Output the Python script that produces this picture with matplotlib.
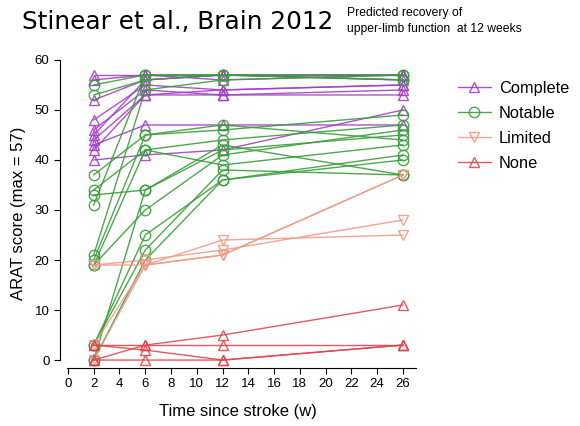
import matplotlib
matplotlib.use("Agg")
import matplotlib.pyplot as plt

weeks = [2, 6, 12, 26]

# ARAT score per patient at weeks 2, 6, 12, 26
complete = [
    [57, 57, 57, 57],
    [56, 57, 56, 57],
    [52, 56, 57, 56],
    [48, 55, 54, 55],
    [46, 54, 53, 54],
    [44, 53, 53, 53],
    [43, 47, 47, 47],
    [40, 41, 42, 50],
    [45, 56, 57, 57],
    [42, 53, 54, 55],
]
notable = [
    [55, 57, 57, 57],
    [53, 56, 57, 56],
    [37, 45, 46, 49],
    [34, 42, 44, 47],
    [33, 34, 42, 45],
    [31, 57, 57, 56],
    [21, 54, 56, 57],
    [20, 45, 47, 44],
    [19, 30, 41, 46],
    [3, 25, 36, 40],
    [3, 22, 38, 37],
    [0, 20, 36, 41],
    [0, 34, 43, 37],
    [19, 42, 39, 43],
]
limited = [
    [19, 19, 24, 25],
    [19, 20, 22, 28],
    [0, 19, 21, 37],
    [3, 19, 21, 37],
]
none = [
    [3, 3, 3, 3],
    [0, 3, 5, 11],
    [0, 0, 0, 3],
    [3, 2, 0, 3],
]

groups = ["Complete", "Notable", "Limited", "None"]
colores = ["#a43fc8", "#3a9e3a", "#f19a86", "#e0474c"]
marcas = ["^", "o", "v", "^"]
dados = [complete, notable, limited, none]

plt.rcParams["font.family"] = ["Liberation Sans", "DejaVu Sans"]

fig = plt.figure(figsize=(5.8, 4.26), dpi=100)
ax = fig.add_axes([0.1034, 0.136, 0.612, 0.728])

for nome, cor, m, pacientes in zip(groups, colores, marcas, dados):
    for i, p in enumerate(pacientes):
        ax.plot(weeks, p, color=cor, marker=m, markersize=7.5, markerfacecolor="none",
                markeredgewidth=1.0, linewidth=1.0, alpha=0.9,
                label=nome if i == 0 else None)

ax.set_xlim(-0.62, 26.93)
ax.set_ylim(-1.6, 60.4)
ax.set_xticks(range(0, 27, 2))
ax.set_yticks(range(0, 61, 10))
ax.spines["top"].set_visible(False)
ax.spines["right"].set_visible(False)
ax.spines["left"].set_bounds(0, 60)
ax.spines["bottom"].set_bounds(-0.1, 27)
ax.tick_params(labelsize=9.5, length=4, direction="out")
ax.set_xlabel("Time since stroke (w)", fontsize=12, labelpad=10)
ax.set_ylabel("ARAT score (max = 57)", fontsize=12, labelpad=6)

fig.legend(loc="upper left", bbox_to_anchor=(443 / 580, 1 - 66 / 426), frameon=False,
           fontsize=11.8, handlelength=2.0, handletextpad=0.5, labelspacing=0.62)

fig.text(22 / 580, 1 - 22 / 426, "Stinear et al., Brain 2012", fontsize=17.8,
         family="DejaVu Sans", va="center", ha="left")
fig.text(347 / 580, 1 - 21 / 426, "Predicted recovery of\nupper-limb function  at 12 weeks",
         fontsize=8.7, family=["Liberation Sans Narrow", "Liberation Sans"], va="center",
         ha="left", linespacing=1.35)

fig.savefig("out.png", dpi=100)
